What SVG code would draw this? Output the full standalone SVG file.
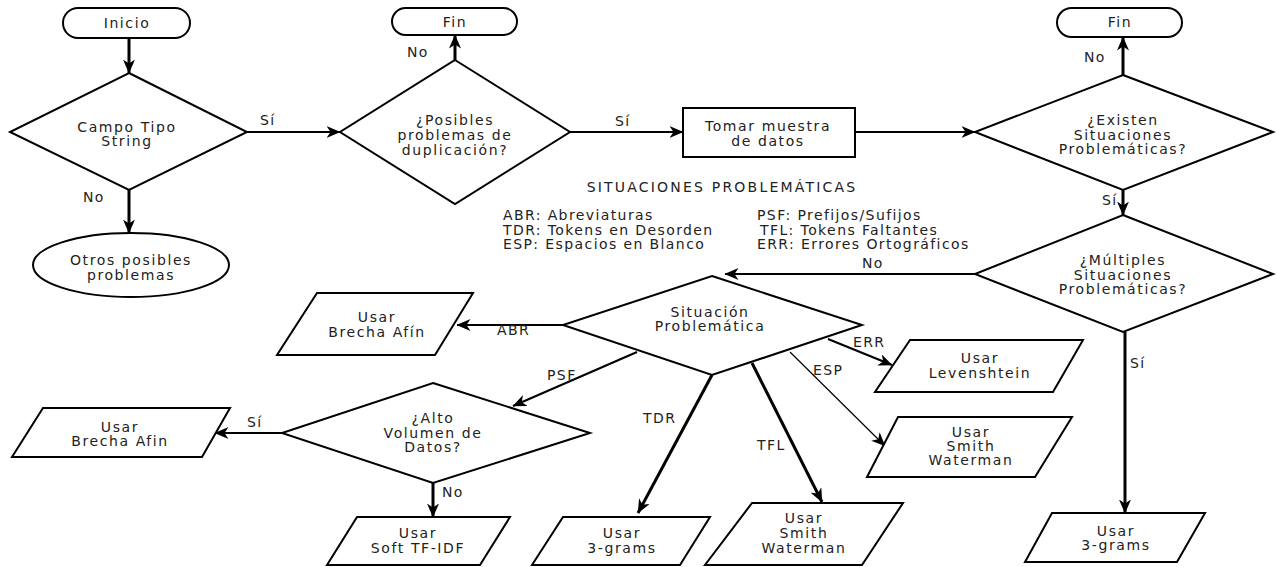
<svg xmlns="http://www.w3.org/2000/svg" width="1276" height="567" viewBox="0 0 1276 567">
<defs>
<marker id="ah" viewBox="0 0 14 12" refX="13.5" refY="6" markerWidth="14" markerHeight="12" markerUnits="userSpaceOnUse" orient="auto">
<path d="M0,0 L14,6 L0,12 L4,6 z" fill="#000"/>
</marker>
<style>
.s{fill:#fff;stroke:#000;stroke-width:2;stroke-linejoin:miter}
.t{font-family:"DejaVu Sans",Verdana,sans-serif;font-size:14px;letter-spacing:1.6px;fill:#222;text-anchor:middle}
.l{font-family:"DejaVu Sans",Verdana,sans-serif;font-size:14px;letter-spacing:1.4px;fill:#222}
.c{fill:none;stroke:#000;marker-end:url(#ah)}
.w3{stroke-width:3}
.w2{stroke-width:2}
.w1{stroke-width:1.2}
</style>
</defs>
<rect width="1276" height="567" fill="#fff"/>

<g id="connectors">
<line class="c w3" x1="129" y1="38" x2="129" y2="73"/>
<line class="c w2" x1="247" y1="132" x2="340" y2="132"/>
<line class="c w3" x1="129" y1="190" x2="129" y2="233"/>
<line class="c w3" x1="455" y1="60" x2="455" y2="35"/>
<line class="c w2" x1="570" y1="132" x2="683" y2="132"/>
<line class="c w2" x1="855" y1="132" x2="975" y2="132"/>
<line class="c w3" x1="1123" y1="75" x2="1123" y2="37"/>
<line class="c w3" x1="1123" y1="190" x2="1123" y2="215"/>
<line class="c w2" x1="975" y1="274" x2="725" y2="274"/>
<line class="c w3" x1="1125" y1="332" x2="1125" y2="513"/>
<line class="c w2" x1="563" y1="325" x2="457" y2="325"/>
<line class="c w2" x1="637" y1="352" x2="513" y2="406"/>
<line class="c w3" x1="712" y1="375" x2="638" y2="513"/>
<line class="c w3" x1="752" y1="363" x2="822" y2="502"/>
<line class="c w1" x1="790" y1="352" x2="885" y2="446"/>
<line class="c w2" x1="828" y1="339" x2="892" y2="365"/>
<line class="c w2" x1="282" y1="433" x2="215" y2="433"/>
<line class="c w3" x1="433" y1="483" x2="433" y2="517"/>
<text class="l" x="260" y="125">Sí</text>
<text class="l" x="83" y="202">No</text>
<text class="l" x="407" y="57">No</text>
<text class="l" x="615" y="126">Sí</text>
<text class="l" x="1084" y="62">No</text>
<text class="l" x="1102" y="205">Sí</text>
<text class="l" x="862" y="268">No</text>
<text class="l" x="1130" y="368">Sí</text>
<text class="l" x="497" y="335">ABR</text>
<text class="l" x="853" y="347">ERR</text>
<text class="l" x="547" y="380">PSF</text>
<text class="l" x="813" y="375">ESP</text>
<text class="l" x="643" y="423">TDR</text>
<text class="l" x="757" y="450">TFL</text>
<text class="l" x="247" y="427">Sí</text>
<text class="l" x="442" y="497">No</text>
</g>

<g id="inicio">
<rect class="s" x="63" y="8" width="127" height="30" rx="15"/>
<text class="t" x="127" y="28">Inicio</text>
</g>
<g id="campo-tipo">
<polygon class="s" points="129,73 247,132 129,190 10,132"/>
<text class="t" x="127" y="132">Campo Tipo</text>
<text class="t" x="127" y="146">String</text>
</g>
<g id="otros">
<ellipse class="s" cx="131" cy="265" rx="98" ry="32"/>
<text class="t" x="131" y="265">Otros posibles</text>
<text class="t" x="131" y="280">problemas</text>
</g>
<g id="fin1">
<rect class="s" x="392" y="8" width="125" height="27" rx="13.5"/>
<text class="t" x="455" y="27">Fin</text>
</g>
<g id="posibles">
<polygon class="s" points="455,60 570,132 455,204 340,132"/>
<text class="t" x="455" y="125">¿Posibles</text>
<text class="t" x="455" y="140">problemas de</text>
<text class="t" x="455" y="155">duplicación?</text>
</g>
<g id="tomar">
<rect class="s" x="683" y="108" width="172" height="49"/>
<text class="t" x="768" y="131">Tomar muestra</text>
<text class="t" x="768" y="146">de datos</text>
</g>
<g id="fin2">
<rect class="s" x="1057" y="8" width="125" height="29" rx="14.5"/>
<text class="t" x="1120" y="27">Fin</text>
</g>
<g id="existen">
<polygon class="s" points="1123,75 1273,132 1123,190 975,132"/>
<text class="t" x="1123" y="125">¿Existen</text>
<text class="t" x="1123" y="140">Situaciones</text>
<text class="t" x="1123" y="154">Problemáticas?</text>
</g>
<g id="multiples">
<polygon class="s" points="1123,215 1273,274 1123,332 975,274"/>
<text class="t" x="1123" y="265">¿Múltiples</text>
<text class="t" x="1123" y="280">Situaciones</text>
<text class="t" x="1123" y="294">Problemáticas?</text>
</g>
<g id="legend">
<text class="t" x="722" y="192" style="letter-spacing:2.2px">SITUACIONES PROBLEMÁTICAS</text>
<text class="l" x="503" y="220">ABR: Abreviaturas</text>
<text class="l" x="503" y="235">TDR: Tokens en Desorden</text>
<text class="l" x="503" y="249">ESP: Espacios en Blanco</text>
<text class="l" x="757" y="220">PSF: Prefijos/Sufijos</text>
<text class="l" x="760" y="235">TFL: Tokens Faltantes</text>
<text class="l" x="757" y="249">ERR: Errores Ortográficos</text>
</g>
<g id="situacion">
<polygon class="s" points="712,276 862,325 712,375 563,325"/>
<text class="t" x="710" y="317">Situación</text>
<text class="t" x="710" y="331">Problemática</text>
</g>
<g id="brecha-afin-1">
<polygon class="s" points="317,293 473,293 435,355 277,355"/>
<text class="t" x="377" y="322">Usar</text>
<text class="t" x="377" y="337">Brecha Afín</text>
</g>
<g id="alto-volumen">
<polygon class="s" points="433,383 590,433 433,483 282,433"/>
<text class="t" x="433" y="423">¿Alto</text>
<text class="t" x="433" y="438">Volumen de</text>
<text class="t" x="433" y="452">Datos?</text>
</g>
<g id="brecha-afin-2">
<polygon class="s" points="43,408 230,408 202,457 12,457"/>
<text class="t" x="120" y="432">Usar</text>
<text class="t" x="120" y="446">Brecha Afin</text>
</g>
<g id="soft-tfidf">
<polygon class="s" points="357,517 510,517 480,565 327,565"/>
<text class="t" x="418" y="538">Usar</text>
<text class="t" x="418" y="553">Soft TF-IDF</text>
</g>
<g id="trigrams-1">
<polygon class="s" points="563,517 710,517 680,565 532,565"/>
<text class="t" x="622" y="538">Usar</text>
<text class="t" x="622" y="553">3-grams</text>
</g>
<g id="smith-1">
<polygon class="s" points="752,503 903,503 862,565 705,565"/>
<text class="t" x="804" y="523">Usar</text>
<text class="t" x="804" y="538">Smith</text>
<text class="t" x="804" y="553">Waterman</text>
</g>
<g id="levenshtein">
<polygon class="s" points="910,340 1083,340 1053,392 875,392"/>
<text class="t" x="980" y="363">Usar</text>
<text class="t" x="980" y="378">Levenshtein</text>
</g>
<g id="smith-2">
<polygon class="s" points="898,417 1072,417 1035,477 867,477"/>
<text class="t" x="971" y="437">Usar</text>
<text class="t" x="971" y="451">Smith</text>
<text class="t" x="971" y="465">Waterman</text>
</g>
<g id="trigrams-2">
<polygon class="s" points="1052,513 1205,513 1177,562 1025,562"/>
<text class="t" x="1116" y="536">Usar</text>
<text class="t" x="1116" y="550">3-grams</text>
</g>
</svg>
